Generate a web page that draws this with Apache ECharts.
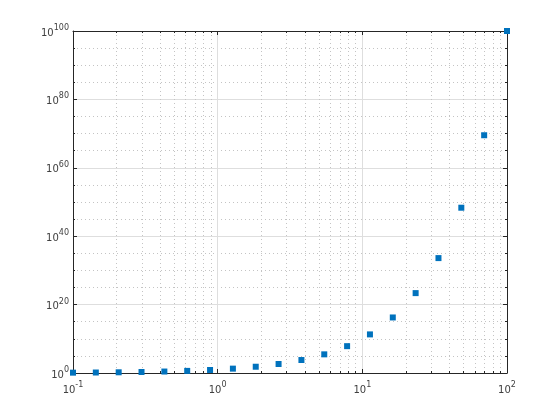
<!DOCTYPE html>
<html><head><meta charset="utf-8">
<script src="https://cdn.jsdelivr.net/npm/echarts@6/dist/echarts.min.js"></script>
<style>html,body{margin:0;padding:0;background:#fff}#c{width:560px;height:420px}</style>
</head><body><div id="c"></div>
<script>
const xData = [0.1, 0.1438, 0.2069, 0.2976, 0.4281, 0.6158, 0.8859, 1.2743, 1.8330, 2.6367,
  3.7927, 5.4556, 7.8476, 11.288, 16.238, 23.357, 33.598, 48.329, 69.519, 100];
const yData = [1.259, 1.392, 1.610, 1.984, 2.680, 4.129, 7.690, 18.80, 68.08, 433.2,
  6203, 2.855e5, 7.04e7, 1.94e11, 1.73e16, 2.28e23, 3.96e33, 2.13e48, 3.30e69, 1e100];
const xMajorTicks = [0.1, 1, 10, 100];
const xMinorTicks = [0.2,0.3,0.4,0.5,0.6,0.7,0.8,0.9, 2,3,4,5,6,7,8,9, 20,30,40,50,60,70,80,90];
const yMajorTicks = [1, 1e20, 1e40, 1e60, 1e80, 1e100];
const yMinorTicks = [1e5,1e10,1e15, 1e25,1e30,1e35, 1e45,1e50,1e55, 1e65,1e70,1e75, 1e85,1e90,1e95];

const axisColor = '#262626';
const textColor = '#404040';
const fmt = v => '{b|10}{s|' + Math.round(Math.log10(v)) + '}';
const rich = {
  b: {fontSize: 10, fontFamily: 'DejaVu Sans', color: textColor, verticalAlign: 'bottom', lineHeight: 14},
  s: {fontSize: 8, fontFamily: 'DejaVu Sans', color: textColor, verticalAlign: 'top', lineHeight: 14, padding: [0,0,5,0]}
};
function xAx(opts) {
  return Object.assign({
    type: 'log', logBase: 10, min: 0.1, max: 100, gridIndex: 0,
    axisLine: {show: false}, axisTick: {show: false}, axisLabel: {show: false}, splitLine: {show: false}
  }, opts);
}
function yAx(opts) {
  return Object.assign({
    type: 'log', logBase: 10, min: 1, max: 1e100, gridIndex: 0,
    axisLine: {show: false}, axisTick: {show: false}, axisLabel: {show: false}, splitLine: {show: false}
  }, opts);
}
const chart = echarts.init(document.getElementById('c'), null, {renderer: 'canvas'});
chart.setOption({
  animation: false,
  backgroundColor: '#fff',
  grid: {left: 73, right: 53, top: 31, bottom: 47, containLabel: false},
  xAxis: [
    xAx({position: 'bottom',
      axisLine: {show: true, onZero: false, lineStyle: {color: axisColor, width: 1}},
      axisTick: {show: true, inside: true, length: 4, customValues: xMajorTicks, lineStyle: {color: axisColor}},
      axisLabel: {show: true, customValues: xMajorTicks, formatter: fmt, rich: rich, margin: 8},
      splitLine: {show: true, customValues: xMajorTicks, lineStyle: {color: '#dedede', width: 1}}
    }),
    xAx({position: 'top',
      axisLine: {show: true, onZero: false, lineStyle: {color: axisColor, width: 1}},
      axisTick: {show: true, inside: true, length: 4, customValues: xMajorTicks, lineStyle: {color: axisColor}}
    }),
    xAx({position: 'bottom',
      axisTick: {show: true, inside: true, length: 2, customValues: xMinorTicks, lineStyle: {color: axisColor}},
      splitLine: {show: true, customValues: xMinorTicks, lineStyle: {color: '#c4c4c4', width: 1, type: [1, 3]}}
    }),
    xAx({position: 'top',
      axisTick: {show: true, inside: true, length: 2, customValues: xMinorTicks, lineStyle: {color: axisColor}}
    })
  ],
  yAxis: [
    yAx({position: 'left',
      axisLine: {show: true, onZero: false, lineStyle: {color: axisColor, width: 1}},
      axisTick: {show: true, inside: true, length: 4, customValues: yMajorTicks, lineStyle: {color: axisColor}},
      axisLabel: {show: true, customValues: yMajorTicks, formatter: fmt, rich: rich, margin: 4},
      splitLine: {show: true, customValues: yMajorTicks, lineStyle: {color: '#dedede', width: 1}}
    }),
    yAx({position: 'right',
      axisLine: {show: true, onZero: false, lineStyle: {color: axisColor, width: 1}},
      axisTick: {show: true, inside: true, length: 4, customValues: yMajorTicks, lineStyle: {color: axisColor}}
    }),
    yAx({position: 'left',
      axisTick: {show: true, inside: true, length: 2, customValues: yMinorTicks, lineStyle: {color: axisColor}},
      splitLine: {show: true, customValues: yMinorTicks, lineStyle: {color: '#c4c4c4', width: 1, type: [1, 3]}}
    }),
    yAx({position: 'right',
      axisTick: {show: true, inside: true, length: 2, customValues: yMinorTicks, lineStyle: {color: axisColor}}
    })
  ],
  series: [{
    type: 'scatter', xAxisIndex: 0, yAxisIndex: 0,
    data: xData.map((x, i) => [x, yData[i]]),
    symbol: 'rect', symbolSize: 6, clip: false, z: 10,
    itemStyle: {color: '#0072BD', opacity: 1}
  }]
});
</script></body></html>
